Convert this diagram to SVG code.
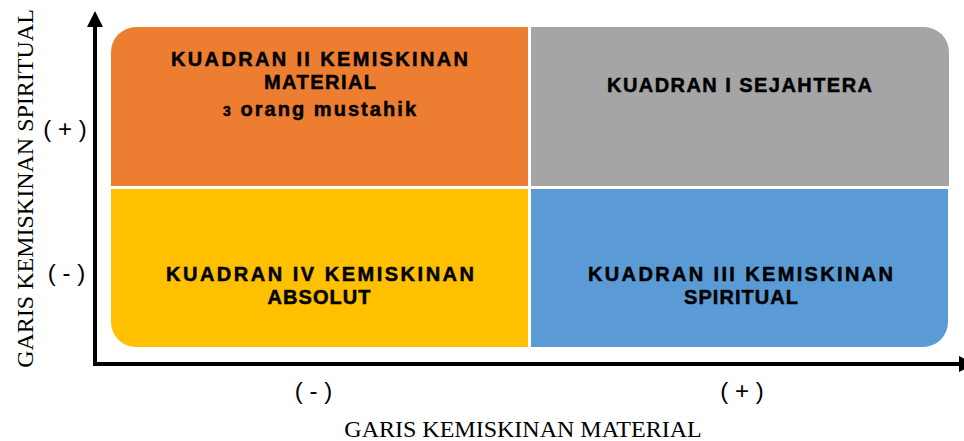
<svg xmlns="http://www.w3.org/2000/svg" width="964" height="441" viewBox="0 0 964 441">
<defs>
<marker id="arrow" markerUnits="userSpaceOnUse" markerWidth="16" markerHeight="16" refX="0" refY="8" orient="auto" overflow="visible">
<path d="M0,0 L16,8 L0,16 Z" fill="#000"/>
</marker>
</defs>
<style>
.q{font-family:"Liberation Sans",Arial,sans-serif;font-weight:bold;font-size:20px;fill:#000;stroke:#000;stroke-width:0.5;text-anchor:middle}
.sign{font-family:"Liberation Sans",Arial,sans-serif;font-size:24px;fill:#000;text-anchor:middle}
.axis-label{font-family:"Liberation Serif","Times New Roman",serif;font-size:24px;fill:#000;text-anchor:middle}
.axis{stroke:#000;stroke-width:4;fill:none}
</style>
<rect width="964" height="441" fill="#fff"/>
<g id="connectors">
<line class="axis" x1="95" y1="366" x2="95" y2="27" marker-end="url(#arrow)"/>
<line class="axis" x1="93" y1="364" x2="959" y2="364" marker-end="url(#arrow)"/>
</g>
<g id="kuadran-2">
<path d="M111,186 V52 A25,25 0 0 1 136,27 H528 V186 Z" fill="#ED7D31"/>
<text class="q" x="319.5" y="66" textLength="297" lengthAdjust="spacing">KUADRAN II KEMISKINAN</text>
<text class="q" x="320" y="88.5" textLength="112" lengthAdjust="spacing">MATERIAL</text>
<text class="q" x="319.5" y="116" font-size="22" textLength="193" lengthAdjust="spacing"><tspan font-size="14">3</tspan> orang mustahik</text>
</g>
<g id="kuadran-1">
<path d="M531,27 H924 A25,25 0 0 1 949,52 V186 H531 Z" fill="#A5A5A5"/>
<text class="q" x="739.5" y="91.5" textLength="265" lengthAdjust="spacing">KUADRAN I SEJAHTERA</text>
</g>
<g id="kuadran-4">
<path d="M111,189 H528 V347 H136 A25,25 0 0 1 111,322 Z" fill="#FFC000"/>
<text class="q" x="320" y="281" textLength="308" lengthAdjust="spacing">KUADRAN IV KEMISKINAN</text>
<text class="q" x="319" y="304" textLength="103" lengthAdjust="spacing">ABSOLUT</text>
</g>
<g id="kuadran-3">
<path d="M531,189 H948 V322 A25,25 0 0 1 923,347 H531 Z" fill="#5B9BD5"/>
<text class="q" x="740.5" y="281" textLength="305" lengthAdjust="spacing">KUADRAN III KEMISKINAN</text>
<text class="q" x="741" y="304" textLength="114" lengthAdjust="spacing">SPIRITUAL</text>
</g>
<g id="labels">
<text class="sign" x="65" y="137">( + )</text>
<text class="sign" x="66.5" y="281">( - )</text>
<text class="sign" x="313.5" y="398.5">( - )</text>
<text class="sign" x="742" y="398.5">( + )</text>
<text class="axis-label" x="523" y="437">GARIS KEMISKINAN MATERIAL</text>
<text class="axis-label" transform="translate(33,188.5) rotate(-90)" x="0" y="0">GARIS KEMISKINAN SPIRITUAL</text>
</g>
</svg>
